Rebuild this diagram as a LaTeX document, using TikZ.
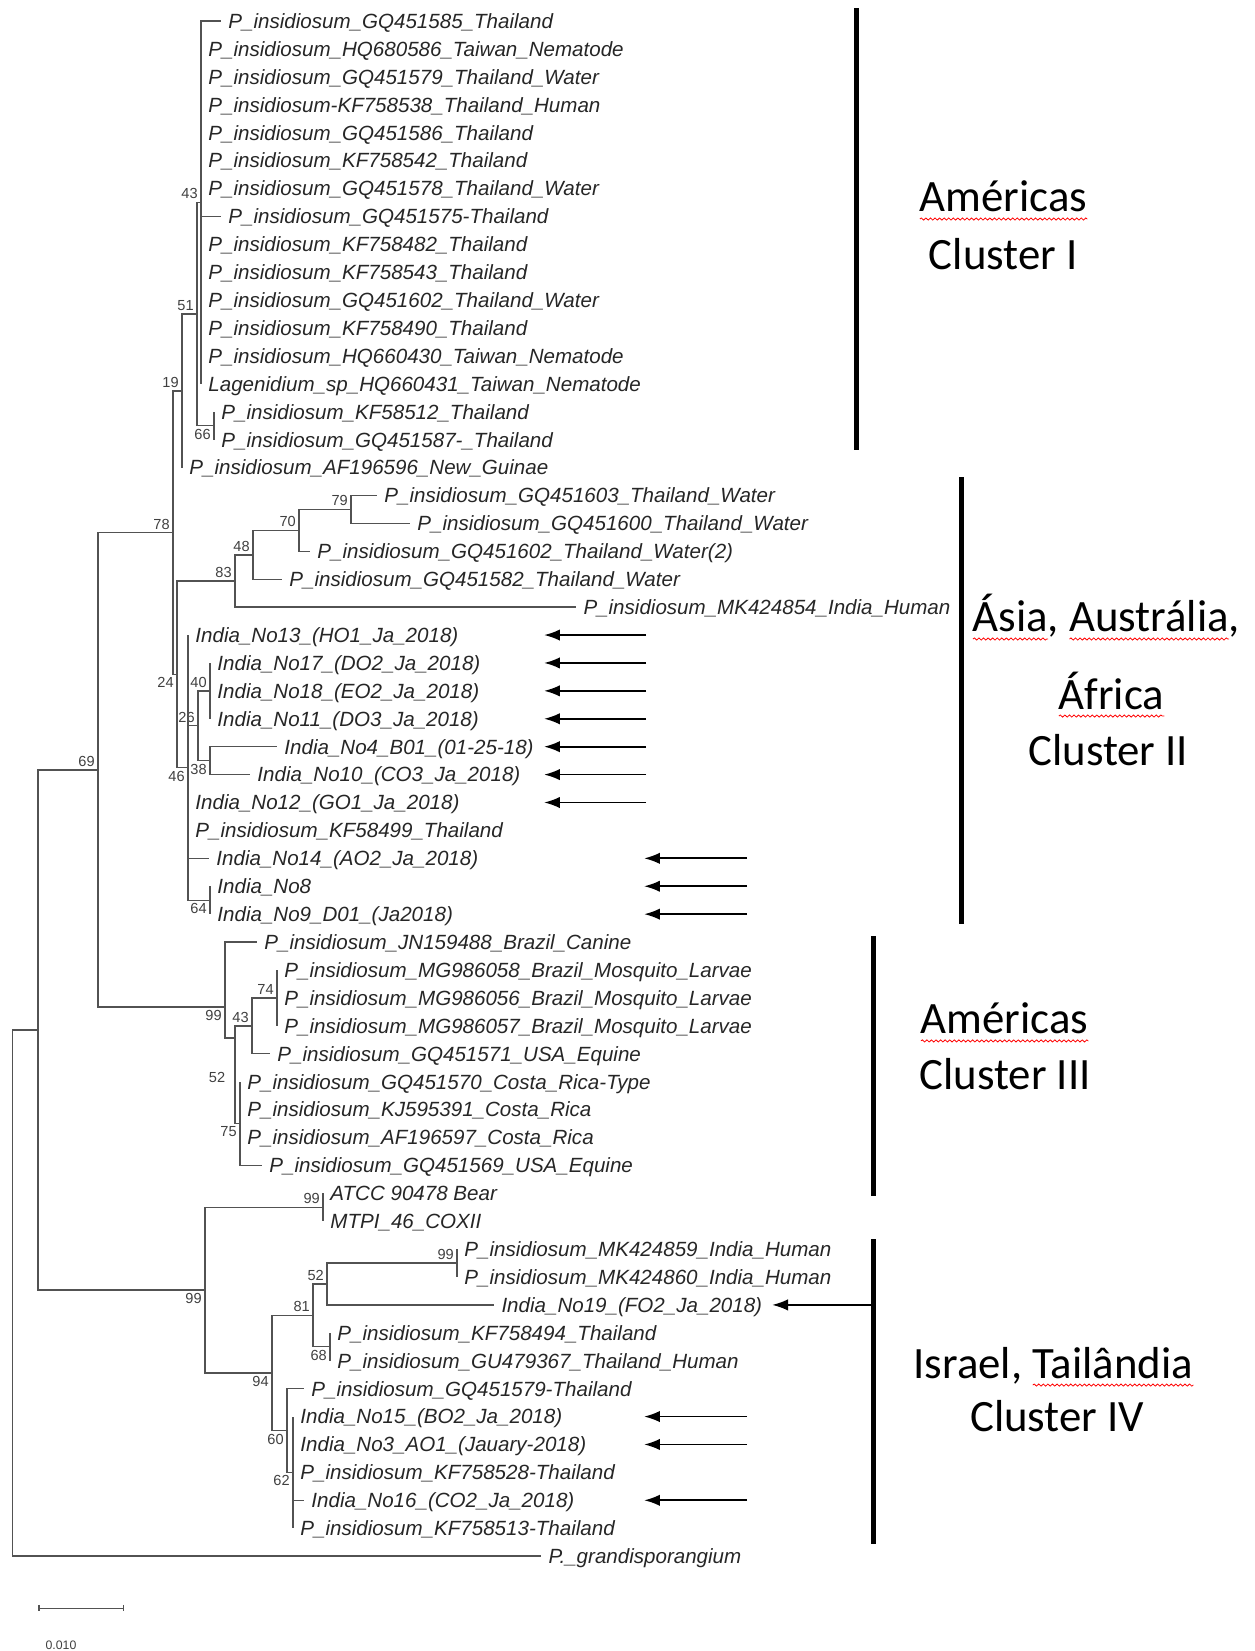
\documentclass[tikz,border=0pt]{standalone}
\usepackage{fontspec}
\setmainfont{Liberation Sans}
\newfontfamily\clusterfont{Carlito}
\usetikzlibrary{arrows.meta,decorations.pathmorphing}
\newsavebox\spellbox
\newcommand\spell[1]{\sbox\spellbox{#1}\rlap{\tikz[x=1pt,y=1pt,baseline=0pt]\draw[red,line width=0.45pt,decorate,decoration={snake,amplitude=0.6pt,segment length=2.6pt}] (0pt,-4pt) -- (\the\wd\spellbox,-4pt);}\usebox\spellbox}
\tikzset{br/.style={draw=black!68,line width=0.8pt}}
\tikzset{tx/.style={anchor=west,inner xsep=4pt,inner ysep=0pt,text height=8.4pt,text depth=0pt,font=\fontsize{11.7}{12}\selectfont\itshape,text=black!85}}
\tikzset{bs/.style={font=\fontsize{8.3}{9}\selectfont,text=black!75,inner sep=1pt,label distance=1pt}}
\tikzset{bar/.style={line width=3pt}}
\tikzset{clu/.style={anchor=base,font=\clusterfont\fontsize{25.5}{30}\selectfont,inner sep=0pt}}
\tikzset{arr/.style={-{Latex[length=9pt,width=6.5pt]},line width=1pt}}
\tikzset{>={Latex}}

\begin{document}
\begin{tikzpicture}[x=0.02cm,y=-0.5582cm]
\useasboundingbox (0,0.2476) rectangle (1254,59.40);

% taxa
\node[tx] (t1) at (221,1) {P\_insidiosum\_GQ451585\_Thailand};
\node[tx] (t2) at (201,2) {P\_insidiosum\_HQ680586\_Taiwan\_Nematode};
\node[tx] (t3) at (201,3) {P\_insidiosum\_GQ451579\_Thailand\_Water};
\node[tx] (t4) at (201,4) {P\_insidiosum-KF758538\_Thailand\_Human};
\node[tx] (t5) at (201,5) {P\_insidiosum\_GQ451586\_Thailand};
\node[tx] (t6) at (201,6) {P\_insidiosum\_KF758542\_Thailand};
\node[tx] (t7) at (201,7) {P\_insidiosum\_GQ451578\_Thailand\_Water};
\node[tx] (t8) at (221,8) {P\_insidiosum\_GQ451575-Thailand};
\node[tx] (t9) at (201,9) {P\_insidiosum\_KF758482\_Thailand};
\node[tx] (t10) at (201,10) {P\_insidiosum\_KF758543\_Thailand};
\node[tx] (t11) at (201,11) {P\_insidiosum\_GQ451602\_Thailand\_Water};
\node[tx] (t12) at (201,12) {P\_insidiosum\_KF758490\_Thailand};
\node[tx] (t13) at (201,13) {P\_insidiosum\_HQ660430\_Taiwan\_Nematode};
\node[tx] (t14) at (201,14) {Lagenidium\_sp\_HQ660431\_Taiwan\_Nematode};
\node[tx] (t15) at (214,15) {P\_insidiosum\_KF58512\_Thailand};
\node[tx] (t16) at (214,16) {P\_insidiosum\_GQ451587-\_Thailand};
\node[tx] (t17) at (182,17) {P\_insidiosum\_AF196596\_New\_Guinae};
\node[tx] (t18) at (377,18) {P\_insidiosum\_GQ451603\_Thailand\_Water};
\node[tx] (t19) at (410,19) {P\_insidiosum\_GQ451600\_Thailand\_Water};
\node[tx] (t20) at (310,20) {P\_insidiosum\_GQ451602\_Thailand\_Water(2)};
\node[tx] (t21) at (282,21) {P\_insidiosum\_GQ451582\_Thailand\_Water};
\node[tx] (t22) at (576,22) {P\_insidiosum\_MK424854\_India\_Human};
\node[tx] (t23) at (188,23) {India\_No13\_(HO1\_Ja\_2018)};
\node[tx] (t24) at (210,24) {India\_No17\_(DO2\_Ja\_2018)};
\node[tx] (t25) at (210,25) {India\_No18\_(EO2\_Ja\_2018)};
\node[tx] (t26) at (210,26) {India\_No11\_(DO3\_Ja\_2018)};
\node[tx] (t27) at (277,27) {India\_No4\_B01\_(01-25-18)};
\node[tx] (t28) at (250,28) {India\_No10\_(CO3\_Ja\_2018)};
\node[tx] (t29) at (188,29) {India\_No12\_(GO1\_Ja\_2018)};
\node[tx] (t30) at (188,30) {P\_insidiosum\_KF58499\_Thailand};
\node[tx] (t31) at (209,31) {India\_No14\_(AO2\_Ja\_2018)};
\node[tx] (t32) at (210,32) {India\_No8};
\node[tx] (t33) at (210,33) {India\_No9\_D01\_(Ja2018)};
\node[tx] (t34) at (257,34) {P\_insidiosum\_JN159488\_Brazil\_Canine};
\node[tx] (t35) at (277,35) {P\_insidiosum\_MG986058\_Brazil\_Mosquito\_Larvae};
\node[tx] (t36) at (277,36) {P\_insidiosum\_MG986056\_Brazil\_Mosquito\_Larvae};
\node[tx] (t37) at (277,37) {P\_insidiosum\_MG986057\_Brazil\_Mosquito\_Larvae};
\node[tx] (t38) at (270,38) {P\_insidiosum\_GQ451571\_USA\_Equine};
\node[tx] (t39) at (240,39) {P\_insidiosum\_GQ451570\_Costa\_Rica-Type};
\node[tx] (t40) at (240,40) {P\_insidiosum\_KJ595391\_Costa\_Rica};
\node[tx] (t41) at (240,41) {P\_insidiosum\_AF196597\_Costa\_Rica};
\node[tx] (t42) at (262,42) {P\_insidiosum\_GQ451569\_USA\_Equine};
\node[tx] (t43) at (323,43) {ATCC 90478 Bear};
\node[tx] (t44) at (323,44) {MTPI\_46\_COXII};
\node[tx] (t45) at (457,45) {P\_insidiosum\_MK424859\_India\_Human};
\node[tx] (t46) at (457,46) {P\_insidiosum\_MK424860\_India\_Human};
\node[tx] (t47) at (494,47) {India\_No19\_(FO2\_Ja\_2018)};
\node[tx] (t48) at (330,48) {P\_insidiosum\_KF758494\_Thailand};
\node[tx] (t49) at (330,49) {P\_insidiosum\_GU479367\_Thailand\_Human};
\node[tx] (t50) at (304,50) {P\_insidiosum\_GQ451579-Thailand};
\node[tx] (t51) at (293,51) {India\_No15\_(BO2\_Ja\_2018)};
\node[tx] (t52) at (293,52) {India\_No3\_AO1\_(Jauary-2018)};
\node[tx] (t53) at (293,53) {P\_insidiosum\_KF758528-Thailand};
\node[tx] (t54) at (304,54) {India\_No16\_(CO2\_Ja\_2018)};
\node[tx] (t55) at (293,55) {P\_insidiosum\_KF758513-Thailand};
\node[tx] (t56) at (541,56) {P.\_grandisporangium};

% inner nodes
\coordinate[label={[bs]above left:43}] (n43) at (201,7.5);
\coordinate[label={[bs]below left:66}] (n66) at (214,15.5);
\coordinate[label={[bs]above left:51}] (n51) at (197,11.5);
\coordinate[label={[bs]above left:19}] (n19) at (182,14.25);
\coordinate[label={[bs]above left:79}] (n79) at (351,18.5);
\coordinate[label={[bs]above left:70}] (n70) at (299,19.25);
\coordinate[label={[bs]above left:48}] (n48) at (253,20.125);
\coordinate[label={[bs]above left:83}] (n83) at (235,21.0625);
\coordinate[label={[bs]above left:40}] (n40) at (210,25);
\coordinate[label={[bs]below left:38}] (n38) at (210,27.5);
\coordinate[label={[bs]above left:26}] (n26) at (198,26.25);
\coordinate[label={[bs]below left:64}] (n64) at (210,32.5);
\coordinate[label={[bs]below left:46}] (n46) at (188,27.75);
\coordinate[label={[bs]below left:24}] (n24) at (177,24.406);
\coordinate[label={[bs]above left:78}] (n78) at (173,19.328);
\coordinate[label={[bs]above left:74}] (n74) at (277,36);
\coordinate[label={[bs]above left:43}] (n43b) at (252,37);
\coordinate[label={[bs]below left:75}] (n75) at (240,40.5);
\coordinate (n52) at (235,37.44);
\node[bs] (l52) at (217,38.84) {52};
\coordinate[label={[bs]below left:99}] (n99b) at (225,36.33);
\coordinate[label={[bs]above left:69}] (n69) at (98,27.83);
\coordinate[label={[bs]above left:99}] (n99c) at (323,43.5);
\coordinate[label={[bs]above left:99}] (n99d) at (457,45.5);
\coordinate[label={[bs]above left:52}] (n52b) at (327,46.25);
\coordinate[label={[bs]below left:68}] (n68) at (330,48.5);
\coordinate[label={[bs]above left:81}] (n81) at (313,47.375);
\coordinate[label={[bs]below left:62}] (n62) at (293,53);
\coordinate[label={[bs]below left:60}] (n60) at (287,51.5);
\coordinate[label={[bs]below left:94}] (n94) at (272,49.4375);
\coordinate[label={[bs]below left:99}] (n99e) at (205,46.469);
\coordinate (n0) at (38,37.15);
\coordinate (root) at (12.6,46.58);

% branches
\foreach \i in {1,...,14} \draw[br] (n43) |- (t\i.west);
\draw[br] (n66) |- (t15.west) (n66) |- (t16.west);
\draw[br] (n51) |- (n43) (n51) |- (n66);
\draw[br] (n19) |- (n51) (n19) |- (t17.west);
\draw[br] (n79) |- (t18.west) (n79) |- (t19.west);
\draw[br] (n70) |- (n79) (n70) |- (t20.west);
\draw[br] (n48) |- (n70) (n48) |- (t21.west);
\draw[br] (n83) |- (n48) (n83) |- (t22.west);
\foreach \i in {24,25,26} \draw[br] (n40) |- (t\i.west);
\draw[br] (n38) |- (t27.west) (n38) |- (t28.west);
\draw[br] (n26) |- (n40) (n26) |- (n38);
\draw[br] (n64) |- (t32.west) (n64) |- (t33.west);
\foreach \c in {t23.west,n26,t29.west,t30.west,t31.west,n64} \draw[br] (n46) |- (\c);
\draw[br] (n24) |- (n83) (n24) |- (n46);
\draw[br] (n78) |- (n19) (n78) |- (n24);
\foreach \i in {35,36,37} \draw[br] (n74) |- (t\i.west);
\draw[br] (n43b) |- (n74) (n43b) |- (t38.west);
\foreach \i in {39,...,42} \draw[br] (n75) |- (t\i.west);
\draw[br] (n52) |- (n43b) (n52) |- (n75);
\draw[br] (n99b) |- (t34.west) (n99b) |- (n52);
\draw[br] (n69) |- (n78) (n69) |- (n99b);
\draw[br] (n99c) |- (t43.west) (n99c) |- (t44.west);
\draw[br] (n99d) |- (t45.west) (n99d) |- (t46.west);
\draw[br] (n52b) |- (n99d) (n52b) |- (t47.west);
\draw[br] (n68) |- (t48.west) (n68) |- (t49.west);
\draw[br] (n81) |- (n52b) (n81) |- (n68);
\foreach \i in {51,...,55} \draw[br] (n62) |- (t\i.west);
\draw[br] (n60) |- (t50.west) (n60) |- (n62);
\draw[br] (n94) |- (n81) (n94) |- (n60);
\draw[br] (n99e) |- (n99c) (n99e) |- (n94);
\draw[br] (n0) |- (n69) (n0) |- (n99e);
\draw[br] (root) |- (n0) (root) |- (t56.west);

% arrows to the new isolates
\foreach \r in {23,...,29} {
  \coordinate (as\r) at (646,\r);
  \coordinate (ae\r) at (544,\r);
  \draw[arr] (as\r) -- (ae\r);
}
\foreach \r in {31,32,33,51,52,54} {
  \coordinate (as\r) at (747,\r);
  \coordinate (ae\r) at (644,\r);
  \draw[arr] (as\r) -- (ae\r);
}
\coordinate (as47) at (874,47);
\coordinate (ae47) at (772,47);
\draw[arr] (as47) -- (ae47);

% cluster bars
\coordinate (b1t) at (856,0.5485); \coordinate (b1b) at (856,16.371);
\coordinate (b2t) at (961,17.338); \coordinate (b2b) at (961,33.354);
\coordinate (b3t) at (873,33.784); \coordinate (b3b) at (873,43.10);
\coordinate (b4t) at (873,44.64);  \coordinate (b4b) at (873,55.57);
\draw[bar] (b1t) -- (b1b);
\draw[bar] (b2t) -- (b2b);
\draw[bar] (b3t) -- (b3b);
\draw[bar] (b4t) -- (b4b);

\node[clu] (c1a) at (1003,7.843) {\spell{Américas}};
\node[clu] (c1b) at (1003,9.886) {Cluster I};
\node[clu] (c2a) at (1106,22.89) {\spell{Ásia}, \spell{Austrália},};
\node[clu] (c2b) at (1111,25.65) {\spell{África}};
\node[clu] (c2c) at (1108,27.66) {Cluster II};
\node[clu] (c3a) at (1004,37.29) {\spell{Américas}};
\node[clu] (c3b) at (1005,39.27) {Cluster III};
\node[clu] (c4a) at (1053,49.62) {Israel, \spell{Tailândia}};
\node[clu] (c4b) at (1057,51.55) {Cluster IV};

% scale bar
\coordinate (sb1) at (39,57.86);
\coordinate (sb2) at (123,57.86);
\draw[br,line width=0.6pt] (sb1) -- (sb2);
\draw[br,line width=0.6pt] (sb1) ++(0,-0.11) -- ++(0,0.22);
\draw[br,line width=0.6pt] (sb2) ++(0,-0.11) -- ++(0,0.22);
\node[font=\fontsize{7}{8}\selectfont,text=black!75,inner sep=0pt] (sbt) at (61,59.2) {0.010};
\end{tikzpicture}
\end{document}
